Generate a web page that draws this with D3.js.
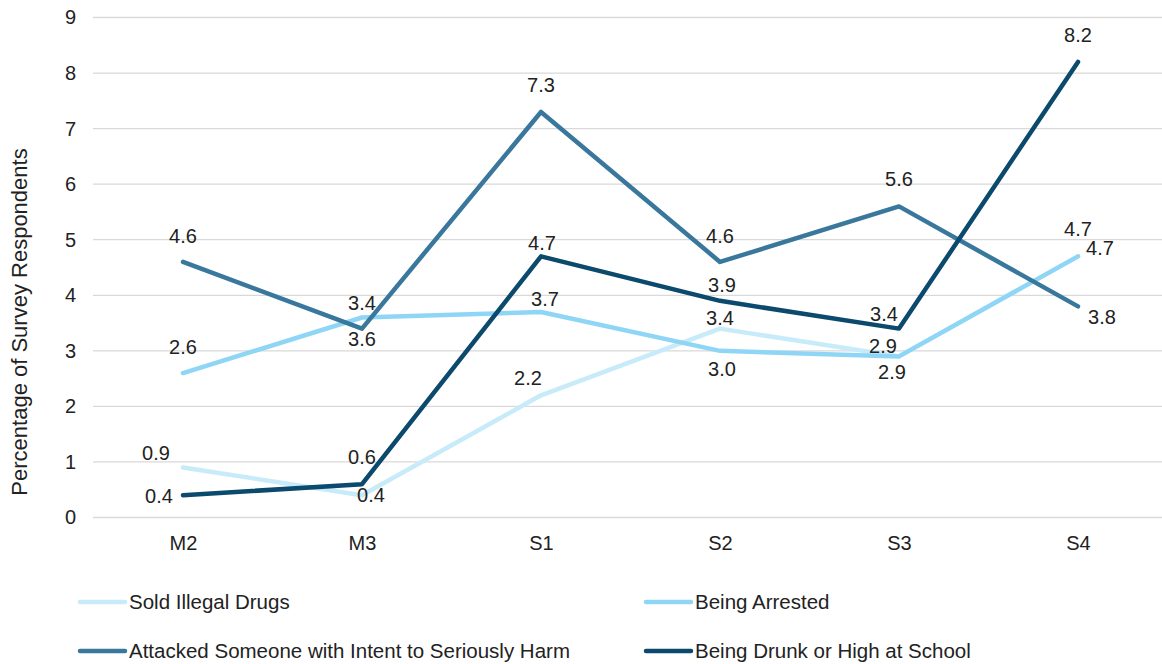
<!DOCTYPE html>
<html>
<head>
<meta charset="utf-8">
<script src="https://cdn.jsdelivr.net/npm/d3@7"></script>
<style>
  html, body { margin: 0; padding: 0; background: #fff; }
  svg { display: block; font-family: "Liberation Sans", Arial, Helvetica, sans-serif; }
</style>
</head>
<body>
<svg id="chart" width="1162" height="664"></svg>
<script>
// ---- data ----
const categories = ["M2", "M3", "S1", "S2", "S3", "S4"];
const seriesNames = [
  "Sold Illegal Drugs",
  "Being Arrested",
  "Attacked Someone with Intent to Seriously Harm",
  "Being Drunk or High at School"
];
const soldIllegalDrugs = [0.9, 0.4, 2.2, 3.4, 2.9, 4.7];
const beingArrested    = [2.6, 3.6, 3.7, 3.0, 2.9, 4.7];
const attackedSomeone  = [4.6, 3.4, 7.3, 4.6, 5.6, 3.8];
const beingDrunkHigh   = [0.4, 0.6, 4.7, 3.9, 3.4, 8.2];
const yTicks = [0, 1, 2, 3, 4, 5, 6, 7, 8, 9];
const yTitle = "Percentage of Survey Respondents";

// ---- styling ----
const colors = ["#c8ebfa", "#8fd6f6", "#39779c", "#0b4a6c"];
// label offsets (dx, dy) relative to each point, per series
const labelOffsets = [
  [[-27,-15],[9,0],[-13,-17],[0,-11],[-16,-10],[0,-27]],
  [[0,-26],[0,21],[4,-13],[2,18],[-7,16],[22,-8]],
  [[0,-26],[0,-26],[0,-27],[0,-26],[0,-27],[24,11]],
  [[-24,1],[0,-27],[1,-13],[2,-16],[-15,-15],[0,-27]]
];
const FONT = "Liberation Sans, Arial, sans-serif";

const svg = d3.select("#chart");
const x = d3.scalePoint().domain(categories).range([93.5, 1167.5]).padding(0.5);
const y = d3.scaleLinear().domain([0, 9]).range([517.5, 17.5]);

// gridlines
svg.append("g").selectAll("line").data(yTicks).join("line")
  .attr("x1", 93).attr("x2", 1162)
  .attr("y1", d => y(d)).attr("y2", d => y(d))
  .attr("stroke", "#d9d9d9").attr("stroke-width", 1.3);

// y axis labels
const yAxis = svg.append("g").attr("transform", "translate(76,0)")
  .call(d3.axisLeft(y).tickValues(yTicks).tickSize(0).tickPadding(0).tickFormat(d3.format("d")));
yAxis.select(".domain").remove();
yAxis.selectAll("text").attr("font-size", 20).attr("fill", "#222").attr("font-family", FONT);

// x axis labels
const xAxis = svg.append("g").attr("transform", "translate(0,536)")
  .call(d3.axisBottom(x).tickSize(0).tickPadding(0));
xAxis.select(".domain").remove();
xAxis.selectAll("text").attr("font-size", 20).attr("fill", "#222").attr("dy", "0.71em").attr("font-family", FONT);

// y title
svg.append("text")
  .attr("transform", "translate(27,322) rotate(-90)")
  .attr("text-anchor", "middle")
  .attr("font-size", 22).attr("fill", "#222")
  .text(yTitle);

const allSeries = [soldIllegalDrugs, beingArrested, attackedSomeone, beingDrunkHigh];
const line = d3.line().x((d, i) => x(categories[i])).y(d => y(d));

allSeries.forEach((vals, s) => {
  svg.append("path").datum(vals)
    .attr("d", line)
    .attr("fill", "none")
    .attr("stroke", colors[s])
    .attr("stroke-width", 4.5)
    .attr("stroke-linejoin", "round")
    .attr("stroke-linecap", "round");
});

allSeries.forEach((vals, s) => {
  svg.append("g").selectAll("text").data(vals).join("text")
    .attr("x", (d, i) => x(categories[i]) + labelOffsets[s][i][0])
    .attr("y", (d, i) => y(d) + labelOffsets[s][i][1])
    .attr("dy", "0.35em")
    .attr("text-anchor", "middle")
    .attr("font-size", 20).attr("fill", "#222")
    .text(d => d.toFixed(1));
});

// legend
const legendPos = [[78, 602], [644, 602], [78, 651], [644, 651]];
seriesNames.forEach((name, s) => {
  const g = svg.append("g").attr("transform", `translate(${legendPos[s][0]},${legendPos[s][1]})`);
  g.append("line").attr("x1", 2).attr("x2", 47).attr("y1", 0).attr("y2", 0)
    .attr("stroke", colors[s]).attr("stroke-width", 4.5).attr("stroke-linecap", "round");
  g.append("text").attr("x", 51).attr("y", 0).attr("dy", "0.35em")
    .attr("font-size", 20.5).attr("fill", "#222").text(name);
});
</script>
</body>
</html>
